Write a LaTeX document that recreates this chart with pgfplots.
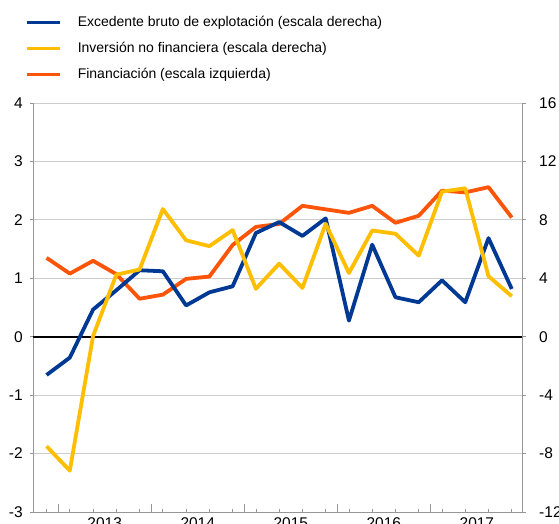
\documentclass[border=0pt]{standalone}
\usepackage{pgfplots}
\pgfplotsset{compat=1.18}
\usepackage{fontspec}
\setmainfont{Liberation Sans}
\definecolor{cblue}{RGB}{0,57,148}
\definecolor{cyellow}{RGB}{255,190,0}
\definecolor{corange}{RGB}{252,84,8}
\definecolor{axgray}{RGB}{150,150,150}
\definecolor{gridgray}{RGB}{205,205,205}
\begin{document}
\begin{tikzpicture}[x=1pt,y=1pt]
\pgfplotsset{
  common/.style={
    scale only axis, width=489.4pt, height=409pt,
    at={(33.3pt,11pt)}, anchor=south west,
    xmin=-0.57, xmax=20.47,
    axis line style={axgray, line width=0.8pt},
    every tick/.style={axgray, line width=0.8pt},
    tick label style={font=\fontsize{15.5}{18}\selectfont},
    clip=false,
  },
}
% x ticks axis
\begin{axis}[common,
  ymin=-3, ymax=4,
  axis y line=none, axis x line*=bottom,
  xtick={0.5,4.5,8.5,12.5,16.5}, xticklabels={},
  minor xtick={0,1,...,20},
  major tick length=8pt, minor tick length=3.5pt,
  xtick align=inside,
]
\end{axis}
% left axis
\begin{axis}[common,
  ymin=-3, ymax=4,
  ytick={-3,-2,-1,0,1,2,3,4},
  yticklabels={-3,-2,-1,0,1,2,3,4},
  axis y line*=left, axis x line*=bottom,
  ymajorgrids, major grid style={gridgray, line width=0.8pt},
  major tick length=3pt, ytick align=outside,
  xtick={2.5,6.5,10.5,14.5,18.5},
  xticklabels={2013,2014,2015,2016,2017},
  xtick style={draw=none},
  xticklabel style={yshift=-2pt},
  yticklabel style={xshift=-4pt},
]
\draw[black, line width=1.8pt] (axis cs:-0.57,0) -- (axis cs:20.47,0);
\addplot[corange, line width=3.8pt, line join=round] coordinates {
(0,1.35)(1,1.08)(2,1.30)(3,1.07)(4,0.65)(5,0.72)(6,0.99)(7,1.03)(8,1.57)(9,1.88)(10,1.93)(11,2.24)(12,2.18)(13,2.12)(14,2.24)(15,1.95)(16,2.07)(17,2.50)(18,2.47)(19,2.56)(20,2.04)};
\end{axis}
% right axis
\begin{axis}[common,
  ymin=-12, ymax=16,
  ytick={-12,-8,-4,0,4,8,12,16},
  yticklabels={-12,-8,-4,0,4,8,12,16},
  axis y line*=right, axis x line=none,
  major tick length=3pt, ytick align=outside,
  yticklabel style={anchor=west, xshift=10pt},
  legend style={draw=none, fill=none, at={(-0.017,1.2127)}, anchor=north west,
    font=\fontsize{14}{16}\selectfont, inner sep=0pt, outer sep=0pt,
    row sep=13pt,
    nodes={inner sep=0pt, text height=10pt, text depth=3pt},
    /tikz/every odd column/.append style={column sep=16pt}},
  legend cell align=left,
  legend image code/.code={\draw[#1, line width=3.8pt] (0pt,0pt) -- (33pt,0pt);},
]
\addplot[cblue, line width=3.8pt, line join=round] coordinates {
(0,-2.62)(1,-1.43)(2,1.86)(3,3.18)(4,4.55)(5,4.48)(6,2.14)(7,3.04)(8,3.45)(9,7.1)(10,7.85)(11,6.9)(12,8.1)(13,1.1)(14,6.3)(15,2.7)(16,2.36)(17,3.86)(18,2.36)(19,6.75)(20,3.27)};
\addlegendentry{Excedente bruto de explotación (escala derecha)}
\addplot[cyellow, line width=3.8pt, line join=round] coordinates {
(0,-7.5)(1,-9.17)(2,0.05)(3,4.25)(4,4.6)(5,8.74)(6,6.6)(7,6.2)(8,7.3)(9,3.28)(10,5.0)(11,3.34)(12,7.73)(13,4.36)(14,7.27)(15,7.05)(16,5.55)(17,9.93)(18,10.16)(19,4.14)(20,2.77)};
\addlegendentry{Inversión no financiera (escala derecha)}
\addlegendimage{corange, line width=3.8pt}
\addlegendentry{Financiación (escala izquierda)}
\end{axis}
\pgfresetboundingbox
\useasboundingbox (0,0) rectangle (559,523);
\end{tikzpicture}
\end{document}
